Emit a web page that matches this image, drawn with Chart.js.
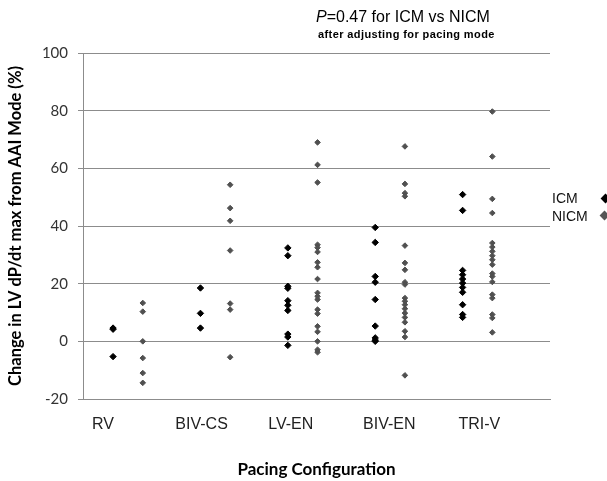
<!DOCTYPE html>
<html><head><meta charset="utf-8">
<script src="https://cdn.jsdelivr.net/npm/chart.js@4"></script>
<style>
html,body{margin:0;padding:0;background:#fff;}
#wrap{position:relative;width:607px;height:481px;overflow:hidden;background:#fff;}
canvas{position:absolute;left:0;top:0;}
.t1{position:absolute;left:316px;top:8px;font:16px "Liberation Sans",Arial,sans-serif;line-height:18px;color:#000;white-space:nowrap;}
.t2{position:absolute;left:318px;top:28px;font:bold 11px "Liberation Sans",Arial,sans-serif;line-height:13px;letter-spacing:0.4px;color:#000;white-space:nowrap;}
.lg{position:absolute;left:552px;font:14px "Liberation Sans",Arial,sans-serif;line-height:16px;color:#111;white-space:nowrap;}
.dm{position:absolute;width:7px;height:7px;transform:rotate(45deg);}
</style></head>
<body>
<div id="wrap">
<canvas id="c" width="607" height="481"></canvas>
<div class="t1"><i>P</i>=0.47 for ICM vs NICM</div>
<div class="t2">after adjusting for pacing mode</div>
<div class="lg" style="top:190px">ICM</div>
<div class="dm" style="left:602px;top:195px;background:#000"></div>
<div class="lg" style="top:208px">NICM</div>
<div class="dm" style="left:601px;top:212px;background:#555"></div>
</div>
<script>
const categories = ['RV', 'BIV-CS', 'LV-EN', 'BIV-EN', 'TRI-V'];
const groupNames = ['ICM', 'NICM'];
const yTicks = [-20, 0, 20, 40, 60, 80, 100];

const icmRV    = [4.6, 4.2, -5.3];
const icmBIVCS = [18.5, 9.7, 4.6];
const icmLVEN  = [32.4, 29.7, 19.1, 18.4, 14.1, 12.5, 10.7, 2.5, 1.5, -1.4];
const icmBIVEN = [39.5, 34.3, 22.5, 20.5, 14.5, 5.3, 1.2, 0.4, 0];
const icmTRIV  = [50.9, 45.4, 24.6, 23.1, 21.6, 20.2, 18.7, 17.0, 12.7, 9.3, 8.3];

const nicmRV    = [13.3, 10.3, 0, -5.8, -11.0, -14.4];
const nicmBIVCS = [54.3, 46.2, 41.8, 31.5, 13.1, 11.0, -5.5];
const nicmLVEN  = [69.0, 61.2, 55.1, 33.5, 32.5, 31.0, 27.4, 25.7, 21.6, 16.8, 15.6, 14.5, 11.0, 9.6, 5.2, 3.3, 0, -2.9, -3.8];
const nicmBIVEN = [67.6, 54.6, 51.4, 50.3, 33.2, 27.2, 24.8, 20.5, 19.7, 15.0, 13.9, 12.7, 11.3, 9.8, 8.3, 6.6, 3.5, 1.5, -11.8];
const nicmTRIV  = [79.7, 64.1, 49.4, 44.5, 34.1, 32.7, 31.2, 29.7, 28.3, 26.6, 23.5, 22.5, 20.6, 16.2, 15.0, 9.3, 8.1, 3.1];

const icmByCat  = [icmRV, icmBIVCS, icmLVEN, icmBIVEN, icmTRIV];
const nicmByCat = [nicmRV, nicmBIVCS, nicmLVEN, nicmBIVEN, nicmTRIV];

// layout of the x axis (axis units)
const nicmShift = 0.34;
const labelPos = [0.885, 2.013, 3.033, 4.161, 5.192];

function toPoints(byCat, shift) {
  const pts = [];
  byCat.forEach((vals, i) => vals.forEach(v => pts.push({x: i + 1 + shift, y: v})));
  return pts;
}

const GRID = '#8c8c8c';
new Chart(document.getElementById('c'), {
  type: 'scatter',
  data: {
    datasets: [
      {label: groupNames[0], data: toPoints(icmByCat, 0), pointStyle: 'rectRot',
       pointRadius: 3.2, pointBorderWidth: 1, backgroundColor: '#000', borderColor: '#000'},
      {label: groupNames[1], data: toPoints(nicmByCat, nicmShift), pointStyle: 'rectRot',
       pointRadius: 2.8, pointBorderWidth: 1, backgroundColor: '#505050', borderColor: '#505050'}
    ]
  },
  options: {
    responsive: false,
    animation: false,
    devicePixelRatio: 1,
    layout: {padding: {top: 53, right: 57, bottom: 0, left: 0}},
    plugins: {legend: {display: false}, tooltip: {enabled: false}},
    scales: {
      x: {
        type: 'linear', min: 0.656, max: 6.0,
        afterBuildTicks: s => { s.ticks = labelPos.map(v => ({value: v})); },
        afterFit: s => { s.height = 82; },
        ticks: {
          callback: (v, i) => categories[i],
          font: {family: 'Liberation Sans', size: 16}, color: '#222',
          padding: 16, maxRotation: 0, autoSkip: false
        },
        grid: {drawOnChartArea: false, drawTicks: false},
        border: {display: true, color: GRID},
        title: {display: true, text: 'Pacing Configuration',
          font: {family: 'Lato', weight: 'bold', size: 17}, color: '#000',
          padding: {top: 0, bottom: 1}}
      },
      y: {
        min: -20, max: 100,
        afterBuildTicks: s => { s.ticks = yTicks.map(v => ({value: v})); },
        afterFit: s => { s.width = 83; },
        ticks: {font: {family: 'Lato', size: 15}, color: '#333', padding: 10},
        grid: {color: GRID, tickLength: 5, drawTicks: true},
        border: {display: true, color: GRID},
        title: {display: true, text: 'Change in LV dP/dt max from AAI Mode (%)',
          font: {family: 'Lato', weight: 'bold', size: 16.5}, color: '#000',
          padding: {top: 6, bottom: 0}}
      }
    }
  }
});
</script>
</body></html>
